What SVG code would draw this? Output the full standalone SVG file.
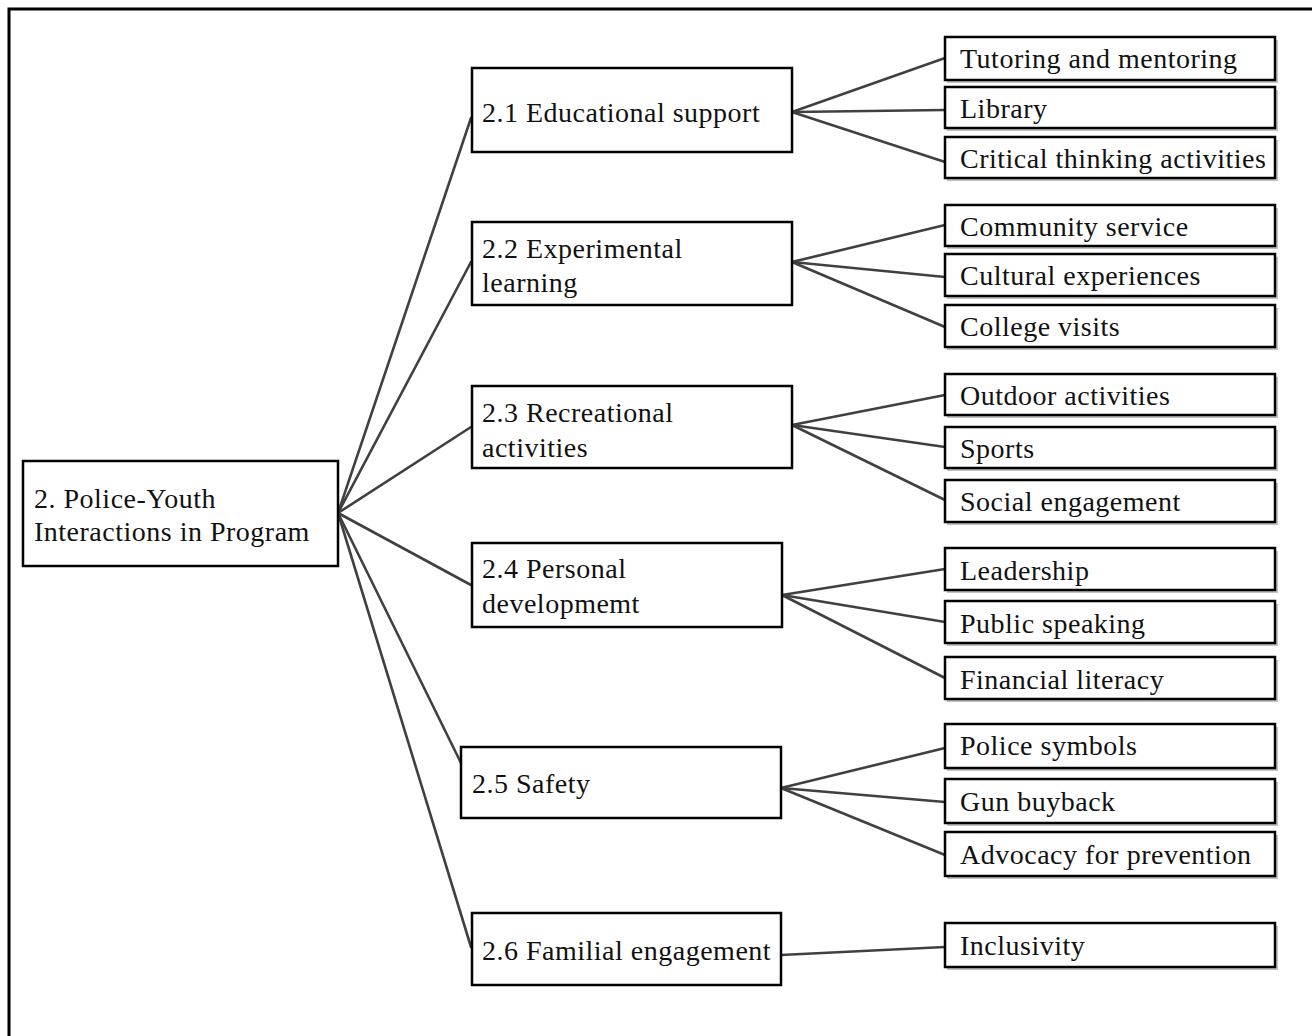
<svg xmlns="http://www.w3.org/2000/svg" width="1312" height="1036" viewBox="0 0 1312 1036">
<style>
.bx{fill:#fff;stroke:#000;stroke-width:2.5}
.sh{fill:#9a9a9a;opacity:0.6}
.t{font-family:"Liberation Serif","DejaVu Serif",serif;font-size:28px;letter-spacing:0.5px;fill:#111}
.c{stroke:#404040;stroke-width:2.6;fill:none;stroke-linecap:round}
</style>
<rect width="1312" height="1036" fill="#fff"/>
<path d="M9 1036 V9 H1312" fill="none" stroke="#000" stroke-width="3"/>
<g id="connectors">
<line class="c" x1="338" y1="513" x2="471" y2="118"/>
<line class="c" x1="338" y1="513" x2="471" y2="262"/>
<line class="c" x1="338" y1="513" x2="471" y2="427"/>
<line class="c" x1="338" y1="513" x2="471" y2="585"/>
<line class="c" x1="338" y1="513" x2="461" y2="763"/>
<line class="c" x1="338" y1="513" x2="471" y2="947"/>
<line class="c" x1="792" y1="112" x2="945" y2="58"/>
<line class="c" x1="792" y1="112" x2="945" y2="110"/>
<line class="c" x1="792" y1="112" x2="945" y2="162"/>
<line class="c" x1="792" y1="262" x2="945" y2="225"/>
<line class="c" x1="792" y1="262" x2="945" y2="277"/>
<line class="c" x1="792" y1="262" x2="945" y2="327"/>
<line class="c" x1="792" y1="425" x2="945" y2="395"/>
<line class="c" x1="792" y1="425" x2="945" y2="447"/>
<line class="c" x1="792" y1="425" x2="945" y2="500"/>
<line class="c" x1="782" y1="595" x2="945" y2="569"/>
<line class="c" x1="782" y1="595" x2="945" y2="622"/>
<line class="c" x1="782" y1="595" x2="945" y2="678"/>
<line class="c" x1="781" y1="788" x2="945" y2="748"/>
<line class="c" x1="781" y1="788" x2="945" y2="802"/>
<line class="c" x1="781" y1="788" x2="945" y2="855"/>
<line class="c" x1="781" y1="955" x2="945" y2="947"/>
</g>
<g id="root">
<rect class="bx" x="23" y="461" width="315" height="105"/>
<text class="t" x="34" y="508">2. Police-Youth</text>
<text class="t" x="34" y="541">Interactions in Program</text>
</g>
<g id="n21">
<rect class="bx" x="472" y="68" width="320" height="84"/>
<text class="t" x="482" y="122">2.1 Educational support</text>
</g>
<g id="n22">
<rect class="bx" x="472" y="222" width="320" height="83"/>
<text class="t" x="482" y="258">2.2 Experimental</text>
<text class="t" x="482" y="292">learning</text>
</g>
<g id="n23">
<rect class="bx" x="472" y="386" width="320" height="82"/>
<text class="t" x="482" y="422">2.3 Recreational</text>
<text class="t" x="482" y="457">activities</text>
</g>
<g id="n24">
<rect class="bx" x="472" y="543" width="310" height="84"/>
<text class="t" x="482" y="578">2.4 Personal</text>
<text class="t" x="482" y="613">developmemt</text>
</g>
<g id="n25">
<rect class="bx" x="461" y="747" width="320" height="71"/>
<text class="t" x="472" y="793">2.5 Safety</text>
</g>
<g id="n26">
<rect class="bx" x="472" y="913" width="309" height="72"/>
<text class="t" x="482" y="960">2.6 Familial engagement</text>
</g>
<g id="l1"><rect class="sh" x="947" y="40" width="331" height="43"/><rect class="bx" x="945" y="37" width="330" height="43"/><text class="t" x="960" y="68">Tutoring and mentoring</text></g>
<g id="l2"><rect class="sh" x="947" y="90" width="331" height="41"/><rect class="bx" x="945" y="87" width="330" height="41"/><text class="t" x="960" y="118">Library</text></g>
<g id="l3"><rect class="sh" x="947" y="140" width="331" height="41"/><rect class="bx" x="945" y="137" width="330" height="41"/><text class="t" x="960" y="168">Critical thinking activities</text></g>
<g id="l4"><rect class="sh" x="947" y="208" width="331" height="41"/><rect class="bx" x="945" y="205" width="330" height="41"/><text class="t" x="960" y="236">Community service</text></g>
<g id="l5"><rect class="sh" x="947" y="257" width="331" height="42"/><rect class="bx" x="945" y="254" width="330" height="42"/><text class="t" x="960" y="285">Cultural experiences</text></g>
<g id="l6"><rect class="sh" x="947" y="308" width="331" height="42"/><rect class="bx" x="945" y="305" width="330" height="42"/><text class="t" x="960" y="336">College visits</text></g>
<g id="l7"><rect class="sh" x="947" y="377" width="331" height="41"/><rect class="bx" x="945" y="374" width="330" height="41"/><text class="t" x="960" y="405">Outdoor activities</text></g>
<g id="l8"><rect class="sh" x="947" y="430" width="331" height="41"/><rect class="bx" x="945" y="427" width="330" height="41"/><text class="t" x="960" y="458">Sports</text></g>
<g id="l9"><rect class="sh" x="947" y="483" width="331" height="42"/><rect class="bx" x="945" y="480" width="330" height="42"/><text class="t" x="960" y="511">Social engagement</text></g>
<g id="l10"><rect class="sh" x="947" y="551" width="331" height="42"/><rect class="bx" x="945" y="548" width="330" height="42"/><text class="t" x="960" y="580">Leadership</text></g>
<g id="l11"><rect class="sh" x="947" y="604" width="331" height="42"/><rect class="bx" x="945" y="601" width="330" height="42"/><text class="t" x="960" y="633">Public speaking</text></g>
<g id="l12"><rect class="sh" x="947" y="660" width="331" height="42"/><rect class="bx" x="945" y="657" width="330" height="42"/><text class="t" x="960" y="689">Financial literacy</text></g>
<g id="l13"><rect class="sh" x="947" y="727" width="331" height="44"/><rect class="bx" x="945" y="724" width="330" height="44"/><text class="t" x="960" y="755">Police symbols</text></g>
<g id="l14"><rect class="sh" x="947" y="782" width="331" height="44"/><rect class="bx" x="945" y="779" width="330" height="44"/><text class="t" x="960" y="811">Gun buyback</text></g>
<g id="l15"><rect class="sh" x="947" y="835" width="331" height="44"/><rect class="bx" x="945" y="832" width="330" height="44"/><text class="t" x="960" y="864">Advocacy for prevention</text></g>
<g id="l16"><rect class="sh" x="947" y="926" width="331" height="44"/><rect class="bx" x="945" y="923" width="330" height="44"/><text class="t" x="960" y="955">Inclusivity</text></g>
</svg>
